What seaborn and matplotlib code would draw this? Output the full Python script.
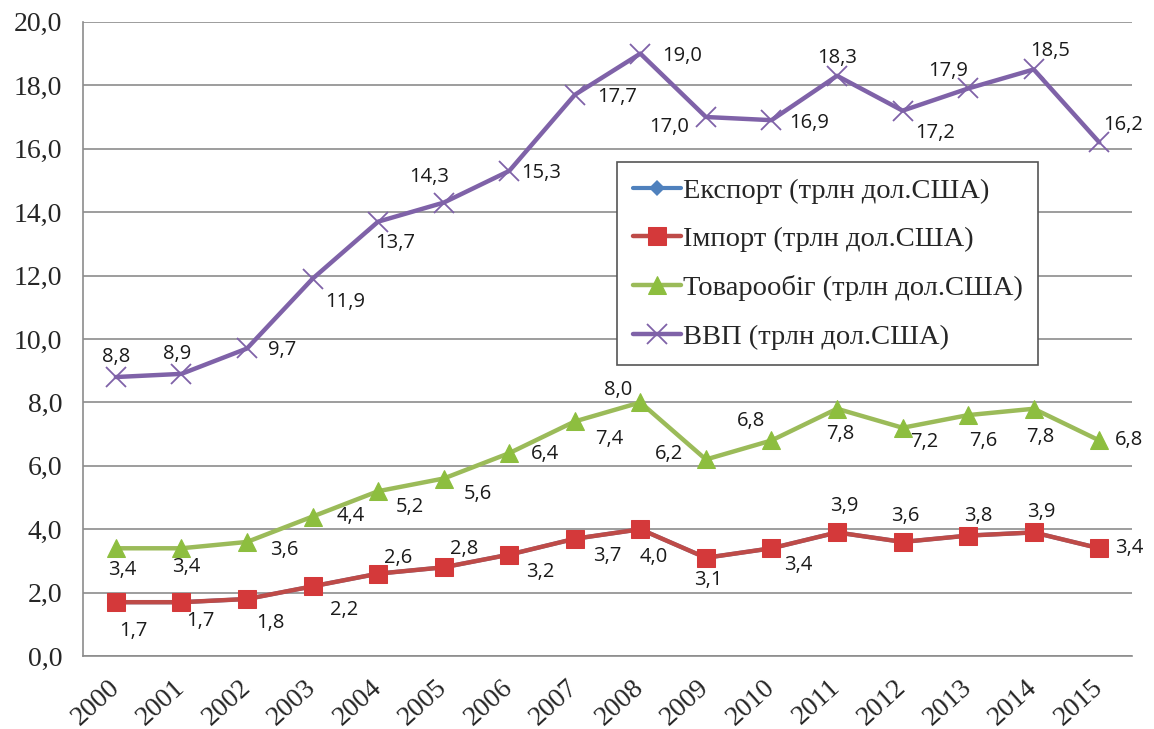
import matplotlib
matplotlib.use('Agg')
import matplotlib.pyplot as plt
import seaborn as sns
import numpy as np
from matplotlib.ticker import FuncFormatter, FixedLocator

# data
years = [str(y) for y in range(2000, 2016)]
export = [1.7, 1.7, 1.8, 2.2, 2.6, 2.8, 3.2, 3.7, 4.0, 3.1, 3.4, 3.9, 3.6, 3.8, 3.9, 3.4]  # hidden under import
imports = [1.7, 1.7, 1.8, 2.2, 2.6, 2.8, 3.2, 3.7, 4.0, 3.1, 3.4, 3.9, 3.6, 3.8, 3.9, 3.4]
turnover = [3.4, 3.4, 3.6, 4.4, 5.2, 5.6, 6.4, 7.4, 8.0, 6.2, 6.8, 7.8, 7.2, 7.6, 7.8, 6.8]
gdp = [8.8, 8.9, 9.7, 11.9, 13.7, 14.3, 15.3, 17.7, 19.0, 17.0, 16.9, 18.3, 17.2, 17.9, 18.5, 16.2]

names = ['Експорт (трлн дол.США)', 'Імпорт (трлн дол.США)',
         'Товарообіг (трлн дол.США)', 'ВВП (трлн дол.США)']

# label offsets in pixels (dx, dy) per point
off_imp = [(17, -29), (19, -19), (23, -24), (32, -24), (20, 16), (20, 18), (31, -17), (32, -17),
           (13, -28), (2, -22), (27, -17), (7, 26), (3, 26), (10, 20), (8, 20), (30, 0)]
off_tur = [(6, -22), (5, -19), (37, -8), (38, 1), (32, -16), (34, -15), (36, -1), (34, -18),
           (-22, 12), (-37, 5), (-20, 19), (3, -25), (22, -14), (15, -26), (7, -28), (30, 0)]
off_gdp = [(0, 20), (-4, 20), (35, -2), (33, -23), (17, -21), (-15, 26), (32, -2), (42, -2),
           (42, -2), (-37, -10), (38, -3), (0, 18), (33, -22), (-20, 17), (16, 18), (24, 17)]

sns.set_style('white')
plt.rcParams['font.family'] = ['Liberation Serif', 'DejaVu Serif']

fig, ax = plt.subplots(figsize=(11.54, 7.29), dpi=100)
fig.subplots_adjust(left=0.072, right=0.981, top=0.970, bottom=0.100)

x = np.arange(len(years))
sns.lineplot(x=x, y=export, ax=ax, color='#4F81BD', lw=3, marker='D', markersize=8,
             markeredgewidth=0, label=names[0], zorder=2)
sns.lineplot(x=x, y=imports, ax=ax, color='#BE4B48', lw=3.2, marker='s', markersize=13,
             markerfacecolor='#D4393A', markeredgecolor='#D4393A', label=names[1], zorder=3)
sns.lineplot(x=x, y=turnover, ax=ax, color='#9BBB59', lw=3.2, marker='^', markersize=13,
             markerfacecolor='#8DBE3F', markeredgecolor='#8DBE3F', label=names[2], zorder=3)
sns.lineplot(x=x, y=gdp, ax=ax, color='#7F62A8', lw=3.2, marker='x', markersize=14,
             markeredgewidth=1.3, markeredgecolor='#7F62A8', label=names[3], zorder=3)

lab_font = dict(fontsize=14.5, color='#1a1a1a', family=['Open Sans', 'DejaVu Sans'],
                ha='center', va='center')
for vals, offs in ((imports, off_imp), (turnover, off_tur), (gdp, off_gdp)):
    for xi, v, (dx, dy) in zip(x, vals, offs):
        ax.annotate(f'{v:.1f}'.replace('.', ','), (xi, v), xytext=(dx, dy),
                    textcoords='offset pixels', **lab_font)

ax.set_xlim(-0.5, len(years) - 0.5)
ax.set_ylim(0, 20)
ax.yaxis.set_major_locator(FixedLocator(np.arange(0, 20.1, 2)))
ax.yaxis.set_major_formatter(FuncFormatter(lambda v, p: f'{v:.1f}'.replace('.', ',')))
ax.set_xticks(x)
ax.set_xticklabels(years, rotation=42, ha='right', va='center', rotation_mode='anchor')
ax.set_xticks(np.arange(-0.5, len(years)), minor=True)
ax.tick_params(axis='x', which='major', length=0, pad=20, labelsize=20)
ax.tick_params(axis='x', which='minor', length=8, width=1.2, color='#8c8c8c', direction='out')
ax.tick_params(axis='y', length=8, width=1.2, color='#8c8c8c', direction='out', pad=7, labelsize=20)
ax.grid(axis='y', color='#8c8c8c', lw=1.2)
ax.set_axisbelow(True)
for s in ('top', 'right'):
    ax.spines[s].set_visible(False)
for s in ('left', 'bottom'):
    ax.spines[s].set_color('#8c8c8c')
    ax.spines[s].set_linewidth(1.2)

leg = ax.legend(loc='upper left', bbox_to_anchor=(0.509, 0.779), fontsize=20.5,
                frameon=True, fancybox=False, edgecolor='#555555', framealpha=1,
                handlelength=1.7, handletextpad=0.05, labelspacing=0.8, borderpad=0.55,
                borderaxespad=0)
leg.get_frame().set_linewidth(1.2)

fig.savefig('out.png', dpi=100)
